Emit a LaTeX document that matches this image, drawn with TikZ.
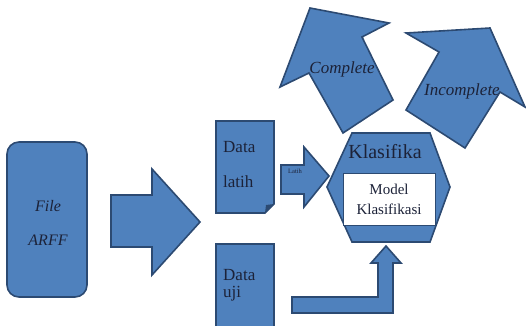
\documentclass[tikz,border=0pt]{standalone}
\usepackage{fontspec}
\setmainfont{Liberation Serif}
\definecolor{isiBiru}{HTML}{4F81BD}
\definecolor{garisBiru}{HTML}{2C4A72}
\definecolor{teksGelap}{HTML}{1C2238}
\newcommand{\ukuran}[1]{\fontsize{#1}{#1}\selectfont}
\begin{document}
\begin{tikzpicture}[x=1pt, y=-1pt,
        blok/.style={fill=isiBiru, draw=garisBiru, line width=1.6pt, line join=miter},
        teks/.style={text=teksGelap, inner sep=0pt},
        teksmiring/.style={teks, font=\ukuran{16}\itshape}]
        \clip (0, 0) rectangle (526, 325);
        % file ARFF
        \draw[blok, rounded corners=12pt] (7, 142) rectangle (87, 297);
        \node[teksmiring] (file) at (48, 206) {File};
        \node[teksmiring] (arff) at (48, 240) {ARFF};
        \draw[blok] (111, 195) -- (152, 195) -- (152, 169) -- (200, 222) -- (152, 275) -- (152, 247) -- (111, 247) -- cycle;
        % data latih dan data uji
        \draw[blok] (216, 121) -- (274, 121) -- (274, 204) -- (265, 213) -- (216, 213) -- cycle;
        \fill[garisBiru] (274, 204) -- (265, 213) -- (266, 205) -- cycle;
        \node[teks, anchor=west, font=\ukuran{17}] (dataA) at (223, 147) {Data};
        \node[teks, anchor=west, font=\ukuran{17}] (latih) at (223, 182) {latih};
        \draw[blok] (216, 244) -- (274, 244) -- (274, 340) -- (216, 340) -- cycle;
        \node[teks, anchor=west, font=\ukuran{17}] (dataB) at (223, 275) {Data};
        \node[teks, anchor=west, font=\ukuran{17}] (uji) at (223, 294) {uji};
        \draw[blok] (281, 165) -- (304, 165) -- (304, 147) -- (329, 176) -- (304, 207) -- (304, 194) -- (281, 194) -- cycle;
        \node[teks, font=\ukuran{6.5}] (latihpanah) at (295, 171) {Latih};
        \draw[blok] (292, 297) -- (378, 297) -- (378, 263) -- (371, 263) -- (386, 246) -- (401, 263) -- (393, 263) -- (393, 313) -- (292, 313) -- cycle;
        % klasifikasi
        \draw[blok] (352, 133) -- (430, 133) -- (450, 187) -- (430, 242) -- (352, 242) -- (327, 187) -- cycle;
        \node[teks, font=\ukuran{20}] (klasifika) at (385, 152) {Klasifika};
        \draw[fill=white, draw=garisBiru, line width=1pt] (343, 173) rectangle (435, 225);
        \node[teks, font=\ukuran{15}] (model) at (389, 189) {Model};
        \node[teks, font=\ukuran{15}] (klasifikasi) at (389, 209) {Klasifikasi};
        % hasil
        \draw[blok] (310, 8) -- (389, 23) -- (362, 37) -- (393, 100) -- (343, 133) -- (309, 73) -- (280, 87) -- cycle;
        \node[teks, font=\ukuran{17}\itshape] (complete) at (342, 69) {Complete};
        \draw[blok] (406, 33) -- (490, 28) -- (525, 107) -- (500, 92) -- (465, 148) -- (406, 110) -- (439, 52) -- cycle;
        \node[teks, font=\ukuran{17}\itshape] (incomplete) at (462, 91) {Incomplete};
    \end{tikzpicture}
\end{document}
